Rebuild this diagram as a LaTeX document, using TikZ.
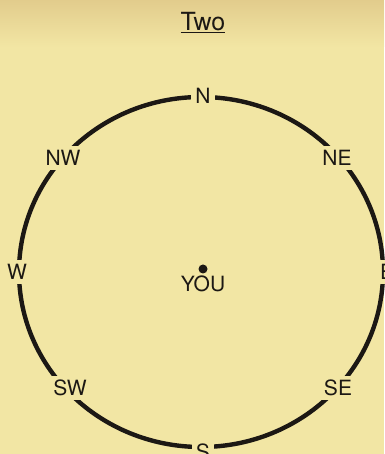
\documentclass[tikz,border=0pt]{standalone}
\usepackage{fontspec}
\setmainfont{TeX Gyre Heros}
\usetikzlibrary{positioning}
\definecolor{Paper}{RGB}{242,230,164}
\definecolor{PaperDark}{RGB}{226,204,140}
\definecolor{Ink}{RGB}{28,24,20}
\tikzset{
  ring/.style={draw=Ink,line width=4.4pt},
  pt/.style={inner sep=4pt,fill=Paper,text=Ink,font=\fontsize{21}{23}\selectfont},
  spot/.style={circle,fill=Ink,inner sep=0pt,minimum size=9pt},
}
\begin{document}
\begin{tikzpicture}[x=1pt,y=1pt]
\fill[Paper](-201,-182)rectangle(183,272);
\shade[top color=PaperDark,bottom color=Paper](-201,225)rectangle(183,272);
\useasboundingbox(-201,-182)rectangle(183,272);
\node[spot](you)at(2,3){};
\node[text=Ink,font=\fontsize{21}{23}\selectfont,below=-1pt of you](youlab){YOU};
\draw[ring](0,0)ellipse[x radius=182,y radius=175];
\foreach \nm/\x/\y in {N/2/176,NE/136/114,E/186/0,SE/137/-116,S/2/-180,SW/-131/-116,W/-184/0,NW/-138/114}{
  \node[pt](\nm)at(\x,\y){\nm};
}
\node[text=Ink,font=\fontsize{25}{27}\selectfont](title)at(2,249){\underline{Two}};
\end{tikzpicture}
\end{document}
